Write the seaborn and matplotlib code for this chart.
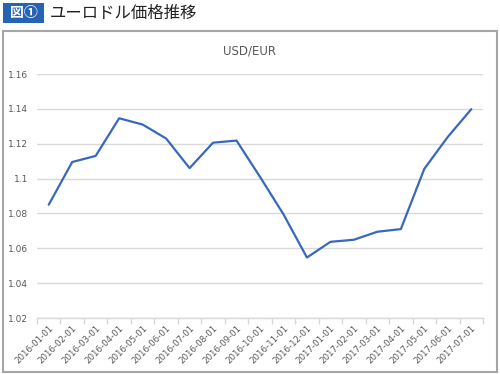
import matplotlib
matplotlib.use('Agg')
import matplotlib.pyplot as plt
import seaborn as sns
import pandas as pd
from matplotlib.patches import Rectangle

# データ
months = ['2016-01-01', '2016-02-01', '2016-03-01', '2016-04-01', '2016-05-01',
          '2016-06-01', '2016-07-01', '2016-08-01', '2016-09-01', '2016-10-01',
          '2016-11-01', '2016-12-01', '2017-01-01', '2017-02-01', '2017-03-01',
          '2017-04-01', '2017-05-01', '2017-06-01', '2017-07-01']
usd_eur = [1.085, 1.1095, 1.113, 1.1346, 1.131, 1.123, 1.106, 1.1206, 1.1218,
           1.101, 1.0795, 1.0547, 1.0637, 1.0649, 1.0695, 1.071, 1.1056, 1.1239,
           1.1398]
yticks = [1.02, 1.04, 1.06, 1.08, 1.1, 1.12, 1.14, 1.16]
ytick_labels = ['1.02', '1.04', '1.06', '1.08', '1.1', '1.12', '1.14', '1.16']

sns.set_theme(style='white')
plt.rcParams['font.family'] = ['Noto Sans CJK JP', 'DejaVu Sans']

df = pd.DataFrame({'pos': range(len(months)), 'rate': usd_eur})

fig = plt.figure(figsize=(5.0, 3.74), dpi=100)
fig.patch.set_facecolor('white')

# 見出し
fig.patches.append(Rectangle((3 / 500, 1 - 23 / 374), 41 / 500, 20 / 374,
                             transform=fig.transFigure, facecolor='#2763B3',
                             edgecolor='none'))
fig.text(23.5 / 500, 1 - 13.5 / 374, '図①', color='white', fontsize=10,
         ha='center', va='center', fontweight='bold')
fig.text(50 / 500, 1 - 13.5 / 374, 'ユーロドル価格推移', color='#222222',
         fontsize=11.8, ha='left', va='center')

# 外枠
fig.patches.append(Rectangle((3 / 500, 1 - 372 / 374), 494 / 500, 341 / 374,
                             transform=fig.transFigure, facecolor='none',
                             edgecolor='#A6A6A6', linewidth=1.5))

ax = fig.add_axes([37 / 500, 1 - 318 / 374, 446 / 500, 244 / 374])
sns.lineplot(data=df, x='pos', y='rate', ax=ax, color='#3868BE', linewidth=1.6)

ax.set_xlim(-0.5, len(months) - 0.5)
ax.set_ylim(1.02, 1.16)
ax.set_yticks(yticks)
ax.set_yticklabels(ytick_labels, color='#595959', fontsize=6.5,
                   family=['DejaVu Sans'])
ax.set_xticks(range(len(months)))
ax.set_xticklabels(months, rotation=45, ha='right', rotation_mode='anchor',
                   color='#595959', fontsize=6.2, family=['DejaVu Sans'])
ax.set_xticks([i - 0.5 for i in range(len(months) + 1)], minor=True)
ax.tick_params(axis='x', which='major', length=0, pad=4)
ax.tick_params(axis='x', which='minor', length=4, color='#D9D9D9', width=1,
               bottom=True)
ax.tick_params(axis='y', length=0, pad=6.5)

ax.grid(axis='y', color='#D9D9D9', linewidth=1)
ax.set_axisbelow(True)
for side in ['top', 'right', 'left']:
    ax.spines[side].set_visible(False)
ax.spines['bottom'].set_color('#D9D9D9')
ax.spines['bottom'].set_linewidth(1)
ax.set_xlabel('')
ax.set_ylabel('')

fig.text(250 / 500, 1 - 51 / 374, 'USD/EUR', color='#595959', fontsize=8.5,
         ha='center', va='center', family=['DejaVu Sans'])

fig.savefig('out.png', dpi=100, facecolor='white')
